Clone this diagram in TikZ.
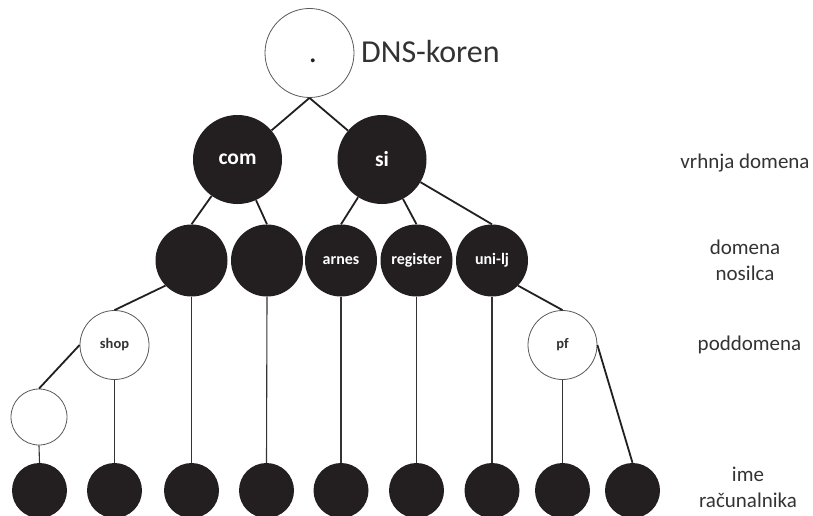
\documentclass[tikz,border=0pt]{standalone}
\usepackage{fontspec}
\setmainfont{Carlito}
\definecolor{ink}{HTML}{231F20}
\definecolor{txt}{HTML}{333333}
\begin{document}
\begin{tikzpicture}[x=1pt,y=-1pt,
  blk/.style={circle,fill=ink,inner sep=0pt,text=white},
  wht/.style={circle,draw=black!65,line width=0.8pt,fill=white,inner sep=0pt,text=txt,font=\fontsize{14.5}{16}\selectfont\bfseries},
  big/.style={blk,minimum size=89pt,font=\fontsize{21.5}{24}\selectfont\bfseries},
  mid/.style={blk,minimum size=72pt,font=\fontsize{16}{19}\selectfont\bfseries},
  leaf/.style={blk,minimum size=55pt},
  edge/.style={line width=1.8pt,draw=ink},
  vline/.style={line width=1.1pt,draw=black!80},
  lbl/.style={text=txt,font=\fontsize{21}{25.5}\selectfont,align=center,inner sep=0pt}
]
\useasboundingbox (0,0) rectangle (813,516);

% root
\node[wht,minimum size=89pt] (root) at (309.5,53) {};
\node[text=ink,font=\fontsize{32}{36}\selectfont,inner sep=0pt] (rootdot) at (313,61) {.};
\node[text=txt,font=\fontsize{32}{38}\selectfont,anchor=west,inner sep=0pt] (rootlbl) at (361,52) {DNS-koren};

% top level
\node[big] (com) at (237.5,159.5) {com};
\node[big] (si) at (382,159.5) {si};

% second level
\node[mid] (c1) at (191.5,260.5) {};
\node[mid] (c2) at (267,260.5) {};
\node[mid] (arnes) at (341,260.5) {arnes};
\node[mid] (register) at (416.5,260.5) {register};
\node[mid] (unilj) at (492,260.5) {uni-lj};

% subdomains
\node[wht,minimum size=69pt] (shop) at (114.5,345) {shop};
\node[wht,minimum size=69pt] (pf) at (562.5,345) {pf};
\node[wht,minimum size=56pt] (s1) at (39,417) {};

% hosts
\foreach \n/\x in {b1/39.5,b2/114.5,b3/191.5,b4/266.5,b5/341,b6/416.5,b7/492,b8/562.5,b9/632.5}
  \node[leaf] (\n) at (\x,490.5) {};

% connectors
\draw[edge] (root.south) -- (com);
\draw[edge] (root.south) -- (si);
\draw[edge] (com) -- (c1.north);
\draw[edge] (com) -- (c2.north);
\draw[edge] (si) -- (arnes.north);
\draw[edge] (si) -- (register.north);
\draw[edge] (si) -- (unilj.north);
\draw[edge] (c1.224) -- (shop.north);
\draw[edge] (unilj.-44) -- (pf.north);
\draw[edge] (shop.west) -- (s1.north);
\draw[edge] (pf.east) -- (b9.north);
\draw[vline] (s1.south) -- (b1.north);
\draw[vline] (shop.south) -- (b2.north);
\draw[vline] (c1.south) -- (b3.north);
\draw[vline] (c2.south) -- (b4.north);
\draw[vline] (arnes.south) -- (b5.north);
\draw[vline] (register.south) -- (b6.north);
\draw[vline] (unilj.south) -- (b7.north);
\draw[vline] (pf.south) -- (b8.north);

% level labels
\node[lbl,anchor=base] (l1) at (745,168) {vrhnja domena};
\node[lbl,anchor=base] (l2) at (745,280) {domena\\nosilca};
\node[lbl,anchor=base] (l3) at (749.5,350) {poddomena};
\node[lbl,anchor=base] (l4) at (748,507) {ime\\računalnika};
\end{tikzpicture}
\end{document}
